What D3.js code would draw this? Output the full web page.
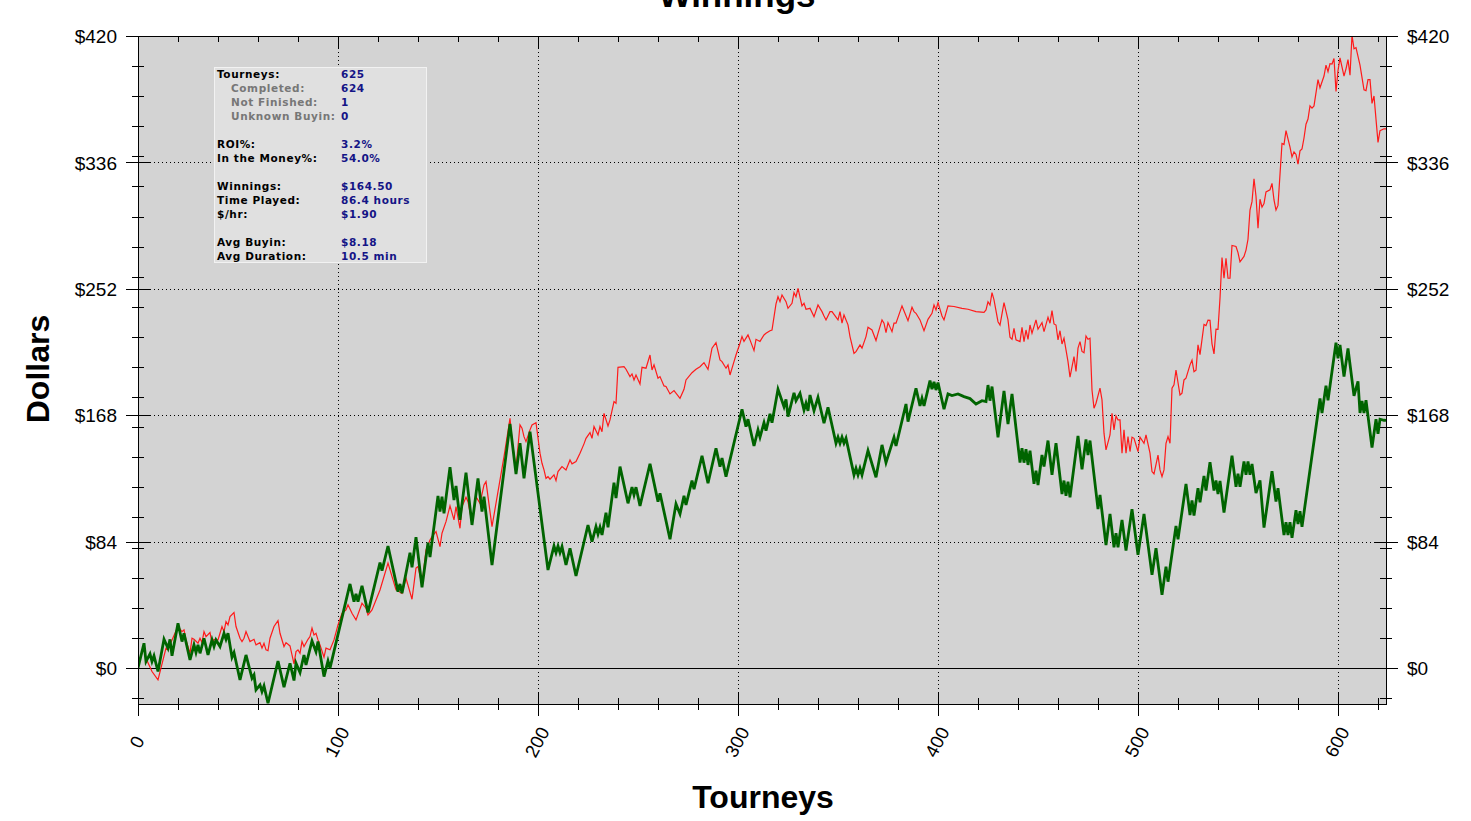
<!DOCTYPE html>
<html>
<head>
  <script src="https://d3js.org/d3.v7.min.js"></script>
  <style>
    body { margin: 0; background: #fff; }
    svg text { font-family: "Liberation Sans", Arial, sans-serif; fill: #000; }
    #stats text { font-family: "DejaVu Sans", Verdana, sans-serif; font-size: 10.5px; font-weight: bold; letter-spacing: 0.6px; }
    .tick line { stroke: #000; shape-rendering: crispEdges; }
  </style>
</head>
<body>
<svg width="1471" height="821">
  <g id="background"/>
  <g id="grid"/>
  <g id="stats"/>
  <g id="lines"/>
  <g id="axes"/>
  <g id="titles"/>
</svg>
<script>
  // cumulative dollars per tourney, vertices
  const netWinnings = [
    [0,0],[3,16.4],[4,4.2],[6,9.3],[7,4.2],[8,8],[10,-2.4],[13,19],[15,13],[16,19],[17,8],[20,29.7],[22,17.5],[23,23],
    [26,5.3],[28,15.3],[29,10.2],[30,15.3],[31,9.7],[33,19.7],[35,8.6],[37,18.6],[38,14.2],[39,18.6],[41,14.2],[43,23],
    [44,19],[45,23],[47,7.1],[48,10.2],[51,-8],[54,8.6],[57,-6.9],[58,-4.7],[59,-14.6],[61,-11.3],[62,-15.7],[63,-12],
    [65,-23.5],[70,4.6],[73,-12.8],[76,3.1],[78,-8.4],[79,3.1],[81,-3.1],[83,8.6],[84,2],[87,17.9],[89,10.8],[90,17.5],
    [93,-5.8],[95,4.6],[96,-0.2],[106,55.8],[108,44],[109,49.2],[110,44],[112,54.5],[115,36.8],[121,70],[122,64.7],
    [125,81],[130,50.7],[131,55.8],[132,49.6],[136,76.6],[137,66.9],[139,86.9],[142,53.6],[145,83.3],[146,73.6],
    [150,114.3],[151,103.9],[152,113.8],[153,102.8],[156,133.4],[158,111.6],[159,121],[161,98.4],[164,129.8],[167,95],
    [170,126],[172,103.9],[173,113.8],[177,68.4],[186,162.1],[189,128.9],[191,149.3],[193,126],[196,157],[205,65.1],
    [208,81],[209,76.6],[210,81],[211,76.6],[212,80.6],[214,68.4],[216,79.5],[219,61.1],[225,95],[227,83.9],[229,93.9],
    [230,89],[231,93.5],[232,88.4],[234,103.2],[235,93.5],[238,123.1],[239,112.8],[241,133.8],[245,109.4],[247,120.1],
    [248,115],[249,120.1],[251,107.7],[256,135.6],[260,110.5],[261,116.1],[266,85.5],[269,109],[271,102.3],[273,114.3],
    [274,108.3],[277,124.5],[278,118.8],[282,140.9],[285,122.7],[289,146],[291,133.8],[292,139.4],[294,127.1],
    [302,171.9],[304,160.4],[305,165.3],[308,147.5],[310,158.2],[311,153.3],[313,163],[314,157.7],[316,168.8],[317,163],
    [320,185.2],[323,173.6],[324,178.5],[325,167],[328,182.9],[329,177.6],[331,182.5],[333,171.4],[334,175.9],
    [335,170.9],[336,181.4],[338,170.9],[340,179.8],[343,162.6],[345,173.2],[349,149.3],[350,153.3],[351,149.3],
    [352,153.3],[353,149.3],[354,152.6],[358,128.3],[359,132.7],[360,128.3],[361,132.7],[362,128.3],[365,144.4],
    [369,126.7],[372,148.2],[374,136.4],[378,153.3],[379,147.5],[384,175.4],[385,163.7],[389,185.9],[391,174.1],
    [392,179.2],[393,174.1],[396,190.9],[397,185.2],[398,190.2],[399,184.7],[400,189.6],[403,171.9],[405,182.1],
    [407,181],[410,182.1],[413,180.3],[416,179],[419,175.4],[422,177.6],[424,177],[425,188],[426,177.6],[427,187],
    [430,153.3],[433,184.1],[435,162.1],[437,182.1],[441,136.4],[442,146],[443,136.4],[444,145.3],[445,134.9],
    [446,144.4],[448,122.3],[449,131.1],[450,121.6],[452,141.5],[453,133.8],[455,151.1],[457,128.3],[459,149.3],
    [462,115.6],[463,124.5],[464,114.3],[465,123.8],[466,113.4],[470,154.2],[472,132],[474,151.9],[475,141.5],
    [476,151.1],[480,105.5],[481,115],[484,81.7],[486,102.3],[488,80.2],[489,89.5],[490,80.2],[492,98.4],[494,78],
    [497,105.5],[500,75.1],[503,102.3],[507,61.8],[509,79.5],[512,48.5],[514,67.3],[515,57.3],[519,94.4],[520,85.4],
    [524,122.2],[526,101.6],[527,111.3],[528,101.2],[530,119.4],[531,110.1],[533,127.6],[534,117.9],[536,136.8],
    [538,117.9],[539,124.6],[540,115.5],[541,124.2],[543,103.3],[547,141.1],[549,120.3],[550,129],[551,120.3],
    [553,137.2],[554,128.3],[555,137.2],[556,128.3],[557,135.5],[559,116.2],[561,124.6],[563,93.2],[567,130.7],
    [569,110.6],[570,119.4],[573,88.3],[574,96.8],[575,88.3],[576,96.8],[577,86.4],[579,104.8],[580,95.6],[581,104.1],
    [582,93.7],[591,179.1],[592,169.4],[594,187.6],[595,177.9],[599,216.2],[600,205.8],[601,214.7],[603,193.6],
    [605,212.3],[608,180.8],[610,190.5],[611,169.4],[612,177.4],[613,169.4],[614,177.9],[617,146.4],[619,165.3],
    [620,155.6],[621,165.3],[623,164.6],[624,164.5]
  ];

  const beforeFees = [
    [0,0],[1,6.4],[3,13.1],[4,6.4],[5,3.5],[7,-2.4],[10,-8],[14,13.1],[15,12.5],[17,18.6],[20,27.5],[22,24.1],[23,25.3],
    [24,18.6],[26,9.7],[27,19.7],[28,19],[30,16.4],[31,19.7],[32,16.8],[33,24.1],[34,20.8],[36,23.5],[37,16.4],[38,19],
    [40,18.6],[41,23],[42,27.5],[43,24.1],[44,30.8],[45,28.6],[46,34.1],[48,36.8],[49,27.5],[51,19.7],[52,17.5],
    [53,19.7],[54,24.1],[56,17.5],[58,19],[59,15.3],[61,16.8],[62,13.1],[63,16.4],[64,12],[65,11.5],[66,19.7],[68,27.5],
    [70,31.4],[71,23],[73,14.2],[74,16.8],[76,14.6],[77,8.6],[78,2.7],[79,10.8],[80,12],[81,9.7],[82,17.5],[83,14.2],
    [85,19],[86,20.8],[87,26.4],[88,21.9],[89,23],[90,18.6],[91,15.3],[93,7.1],[94,13.1],[96,12],[98,18.6],[100,28.6],
    [102,36.3],[104,38.5],[105,41.9],[107,36.3],[109,31.9],[112,43],[114,39.7],[115,35.2],[117,38.5],[121,51.8],
    [125,69.6],[129,51.8],[132,49.6],[134,59.6],[137,45.6],[139,66.3],[140,67.3],[142,55.2],[144,78.4],[146,85],
    [147,87.3],[149,90.6],[151,80.6],[152,89.5],[154,97.2],[156,107.7],[158,98.4],[159,107.2],[161,92.8],[162,107.2],
    [164,113.4],[165,110.5],[167,96.2],[169,113.8],[171,109.4],[173,121.6],[174,123.8],[177,93.9],[183,140.4],
    [186,165.9],[187,151.5],[189,132.7],[191,161.5],[192,159.3],[193,153.7],[194,150.4],[196,158.2],[197,161.5],
    [199,163],[201,142.7],[202,136],[203,131.6],[204,126],[205,127.1],[206,125.4],[208,128.3],[209,124.5],[210,130.5],
    [212,133.8],[214,131.6],[216,138.2],[217,135.6],[219,137.1],[221,142.7],[223,148.9],[224,152.6],[226,156.4],
    [227,152.6],[228,160.4],[230,154.8],[231,160.4],[232,157],[233,169.2],[235,160.8],[236,164.8],[238,177],
    [239,175.9],[240,199.8],[243,200.2],[244,198.5],[246,193.6],[247,195.4],[248,191.4],[249,194.7],[251,188.7],
    [252,199.8],[254,199.2],[256,208],[257,198],[258,201.4],[260,192.5],[261,193.6],[263,187.4],[264,187],[266,182.1],
    [268,184.3],[271,179.2],[273,185.2],[274,191.4],[277,196.2],[279,198.5],[281,200.2],[283,202.9],[285,198.5],
    [287,212.5],[289,216.2],[291,204.7],[292,203.6],[294,199.2],[295,201.4],[296,194.7],[298,203.6],[299,208],
    [301,215.8],[302,220.3],[303,217],[305,221.3],[306,218],[308,210.9],[309,218.4],[311,217],[313,221.3],[314,222.4],
    [316,224.1],[317,224.6],[319,241.9],[320,246.7],[321,243.4],[322,247.9],[324,243.4],[325,239],[327,242.3],
    [328,249.4],[329,246.7],[330,252.3],[332,240.6],[333,242.3],[334,238.4],[336,239],[338,233.5],[340,241.2],
    [342,236.8],[343,233.9],[344,231.3],[346,236.8],[347,236.8],[350,231.3],[351,236.8],[352,229.1],[353,234.6],
    [355,228],[356,220.2],[358,209.1],[359,210.2],[361,214.7],[362,212.5],[364,220.2],[365,226.4],[367,224.6],
    [369,217.6],[370,222.4],[372,231.3],[373,229.1],[374,222.8],[375,229.5],[377,223.5],[378,229.1],[379,229.1],
    [382,240.6],[385,230.8],[387,239.7],[388,236.8],[389,235.7],[391,231.3],[393,224.1],[395,231.7],[397,235.7],
    [398,241.2],[399,237.9],[400,242.8],[402,233.9],[403,231.3],[405,240.6],[408,240.2],[412,239],[415,238.4],
    [419,236.8],[423,236.3],[424,237.9],[425,243.4],[426,241.2],[427,249.4],[428,244.6],[430,230.1],[431,227.9],
    [433,242.8],[435,231.3],[436,219.8],[437,218.4],[438,225.7],[439,218],[441,216.9],[442,226.4],[443,216.9],
    [444,224.6],[445,218.4],[446,227.9],[447,222.4],[449,231.3],[450,225.1],[452,229.5],[453,223.5],[455,233.1],
    [456,229.1],[457,237.5],[458,228.6],[459,227.9],[460,218],[461,224.1],[462,215.3],[463,219.1],[465,203.6],
    [466,193.2],[468,206.9],[469,197],[470,212.5],[471,216.9],[472,210.3],[473,209.5],[474,220.6],[475,218.4],
    [476,219.1],[477,184.7],[478,172.6],[479,175.9],[481,185.9],[482,178.1],[483,156],[484,144.9],[486,154.8],
    [487,169.2],[488,158.2],[489,167.5],[490,164.8],[491,164.8],[492,142.7],[493,158.2],[494,142.7],[495,153.7],
    [496,143.8],[497,153.3],[498,152.6],[500,143.8],[501,153.3],[503,149.3],[504,154.8],[506,142.7],[507,130.5],
    [508,128.9],[510,141.5],[511,131.6],[512,127.1],[513,131.6],[514,149.3],[515,153.7],[516,149.3],[517,185.9],
    [518,188.1],[519,198],[521,181.4],[522,182.6],[523,191.4],[524,192.5],[526,201.4],[527,204.5],[528,196.8],
    [529,197.8],[530,214.7],[531,208.2],[533,228.3],[534,227.5],[535,231.2],[536,231],[537,215.4],[538,208.7],
    [539,225.1],[540,225],[541,245.7],[542,272.8],[543,259],[544,272.3],[545,259],[546,259],[547,280.8],[549,280.1],
    [550,276],[551,269.9],[553,273.5],[554,277.7],[555,284.9],[556,304.3],[557,309.9],[558,325.1],[559,313.5],
    [560,292.2],[561,311.5],[562,306.2],[563,308.6],[564,316.4],[566,317.8],[567,322],[568,311],[569,304.3],
    [570,307.4],[572,348.6],[573,347.9],[574,357.1],[576,346.2],[577,339.6],[578,343],[579,341.3],[580,334.8],
    [581,343.7],[582,345],[583,352.2],[584,361.4],[585,364.8],[586,373.5],[587,372],[588,373.5],[590,391],[591,385.6],
    [593,393.4],[594,400.6],[595,396.3],[596,401.6],[597,401.4],[598,405],[599,383.2],[600,397],[601,405.5],
    [603,393.4],[604,398.2],[605,404.3],[606,393.9],[607,420.5],[608,411.5],[609,412.3],[611,400.6],[613,384.2],
    [614,383.7],[615,391],[616,391],[617,375.2],[618,380.1],[620,349.3],[621,357.1],[623,358.3],[624,358.3]
  ];

  const xTickValues = [0, 100, 200, 300, 400, 500, 600];
  const yTickValues = [0, 84, 168, 252, 336, 420];

  const statRows = [
    ["Tourneys:", "625", false],
    ["Completed:", "624", true],
    ["Not Finished:", "1", true],
    ["Unknown Buyin:", "0", true],
    null,
    ["ROI%:", "3.2%", false],
    ["In the Money%:", "54.0%", false],
    null,
    ["Winnings:", "$164.50", false],
    ["Time Played:", "86.4 hours", false],
    ["$/hr:", "$1.90", false],
    null,
    ["Avg Buyin:", "$8.18", false],
    ["Avg Duration:", "10.5 min", false]
  ];

  let width = 1471,
    height = 821,
    plot = { left: 138, right: 1386, top: 36, bottom: 704 };

  function make_scales() {
    return {
      x: d3.scaleLinear().domain([0, 624]).range([plot.left, plot.right]),
      y: d3.scaleLinear().domain([-24, 420]).range([plot.bottom, plot.top])
    };
  }

  function background(scales) {
    let svg = d3.select("svg");
    svg.append("clipPath").attr("id", "plot-clip")
      .append("rect")
      .attr("x", plot.left).attr("y", plot.top)
      .attr("width", plot.right - plot.left).attr("height", plot.bottom - plot.top);

    d3.select("#background").append("rect")
      .attr("x", plot.left).attr("y", plot.top)
      .attr("width", plot.right - plot.left).attr("height", plot.bottom - plot.top)
      .attr("fill", "#d3d3d3");

    let grid = d3.select("#grid");
    grid.selectAll("line.vx")
      .data(xTickValues.filter(d => d > 0)).enter()
      .append("line")
      .attr("class", "vx")
      .attr("x1", d => Math.round(scales.x(d)) + 0.5)
      .attr("x2", d => Math.round(scales.x(d)) + 0.5)
      .attr("y1", plot.top)
      .attr("y2", plot.bottom)
      .attr("stroke", "#000")
      .attr("stroke-dasharray", "1,3");

    grid.selectAll("line.hy")
      .data(yTickValues.filter(d => d > 0 && d < 420)).enter()
      .append("line")
      .attr("class", "hy")
      .attr("x1", plot.left)
      .attr("x2", plot.right)
      .attr("y1", d => Math.round(scales.y(d)) + 0.5)
      .attr("y2", d => Math.round(scales.y(d)) + 0.5)
      .attr("stroke", "#000")
      .attr("stroke-dasharray", "1,3");

    // zero line runs out to the major tick ends
    grid.append("line")
      .attr("x1", plot.left - 12)
      .attr("x2", plot.right + 12)
      .attr("y1", Math.round(scales.y(0)) + 0.5)
      .attr("y2", Math.round(scales.y(0)) + 0.5)
      .attr("stroke", "#000");
  }

  function stats_box() {
    let g = d3.select("#stats");
    g.append("rect")
      .attr("x", 214.5).attr("y", 67.5)
      .attr("width", 212).attr("height", 195)
      .attr("fill", "#e0e0e0")
      .attr("stroke", "#f2f2f2");

    let rows = statRows.map((r, i) => ({ r: r, i: i })).filter(d => d.r);
    g.selectAll("text.label")
      .data(rows).enter()
      .append("text")
      .attr("class", "label")
      .attr("x", d => d.r[2] ? 231 : 217)
      .attr("y", d => 77.5 + d.i * 14)
      .style("fill", d => d.r[2] ? "#777" : "#000")
      .text(d => d.r[0]);

    g.selectAll("text.value")
      .data(rows).enter()
      .append("text")
      .attr("class", "value")
      .attr("x", 341)
      .attr("y", d => 77.5 + d.i * 14)
      .style("fill", "#141486")
      .text(d => d.r[1]);
  }

  function draw_lines(scales) {
    let line = d3.line()
      .x(d => scales.x(d[0]))
      .y(d => scales.y(d[1]));

    let g = d3.select("#lines").attr("clip-path", "url(#plot-clip)");
    g.append("path")
      .datum(beforeFees)
      .attr("d", line)
      .attr("fill", "none")
      .attr("stroke", "#ff1a1a")
      .attr("stroke-width", 1.2);

    g.append("path")
      .datum(netWinnings)
      .attr("d", line)
      .attr("fill", "none")
      .attr("stroke", "#006400")
      .attr("stroke-width", 2.8);
  }

  function tick_group(axis, transform) {
    let g = d3.select("#axes").append("g")
      .attr("transform", transform)
      .call(axis);
    g.select(".domain").remove();
    return g;
  }

  function annotations(scales) {
    let minorX = d3.range(0, 621, 20),
      minorY = d3.range(-20, 421, 20),
      fmt = "";

    // ticks cross the frame: minor 6px each way, major 12px
    tick_group(d3.axisLeft(scales.y).tickValues(minorY).tickSize(12).tickFormat(fmt), `translate(${plot.left + 6},0)`);
    tick_group(d3.axisLeft(scales.y).tickValues(yTickValues).tickSize(24).tickFormat(fmt), `translate(${plot.left + 12},0)`);
    tick_group(d3.axisRight(scales.y).tickValues(minorY).tickSize(12).tickFormat(fmt), `translate(${plot.right - 6},0)`);
    tick_group(d3.axisRight(scales.y).tickValues(yTickValues).tickSize(24).tickFormat(fmt), `translate(${plot.right - 12},0)`);
    tick_group(d3.axisBottom(scales.x).tickValues(minorX).tickSize(12).tickFormat(fmt), `translate(0,${plot.bottom - 6})`);
    tick_group(d3.axisBottom(scales.x).tickValues(xTickValues).tickSize(24).tickFormat(fmt), `translate(0,${plot.bottom - 12})`);
    tick_group(d3.axisTop(scales.x).tickValues(minorX).tickSize(6).tickFormat(fmt), `translate(0,${plot.top + 6})`);
    tick_group(d3.axisTop(scales.x).tickValues(xTickValues).tickSize(12).tickFormat(fmt), `translate(0,${plot.top + 12})`);

    d3.select("#axes").append("rect")
      .attr("x", plot.left + 0.5).attr("y", plot.top + 0.5)
      .attr("width", plot.right - plot.left).attr("height", plot.bottom - plot.top)
      .attr("fill", "none")
      .attr("stroke", "#000");

    let left = tick_group(d3.axisLeft(scales.y).tickValues(yTickValues).tickSize(0).tickPadding(0)
      .tickFormat(d => "$" + d), `translate(117,0)`);
    let right = tick_group(d3.axisRight(scales.y).tickValues(yTickValues).tickSize(0).tickPadding(0)
      .tickFormat(d => "$" + d), `translate(1407,0)`);
    [left, right].forEach(g => g.attr("font-size", 19)
      .attr("font-family", "Liberation Sans, Arial, sans-serif")
      .selectAll("text").attr("dy", "0.36em").style("fill", "#000"));

    d3.select("#axes").append("g")
      .selectAll("text")
      .data(xTickValues).enter()
      .append("text")
      .attr("transform", d => `translate(${scales.x(d) - 1},742)rotate(-62)`)
      .attr("text-anchor", "middle")
      .attr("dominant-baseline", "central")
      .attr("font-size", 18.5)
      .text(d => d);

    let t = d3.select("#titles");
    t.append("text")
      .attr("x", 737).attr("y", 7)
      .attr("text-anchor", "middle")
      .attr("font-size", 35).attr("font-weight", "bold")
      .text("Winnings");
    t.append("text")
      .attr("x", 763).attr("y", 808)
      .attr("text-anchor", "middle")
      .attr("font-size", 32).attr("font-weight", "bold")
      .text("Tourneys");
    t.append("text")
      .attr("transform", "translate(49,369)rotate(-90)")
      .attr("text-anchor", "middle")
      .attr("font-size", 32).attr("font-weight", "bold")
      .text("Dollars");
  }

  let scales = make_scales();
  background(scales);
  stats_box();
  draw_lines(scales);
  annotations(scales);
</script>
</body>
</html>
